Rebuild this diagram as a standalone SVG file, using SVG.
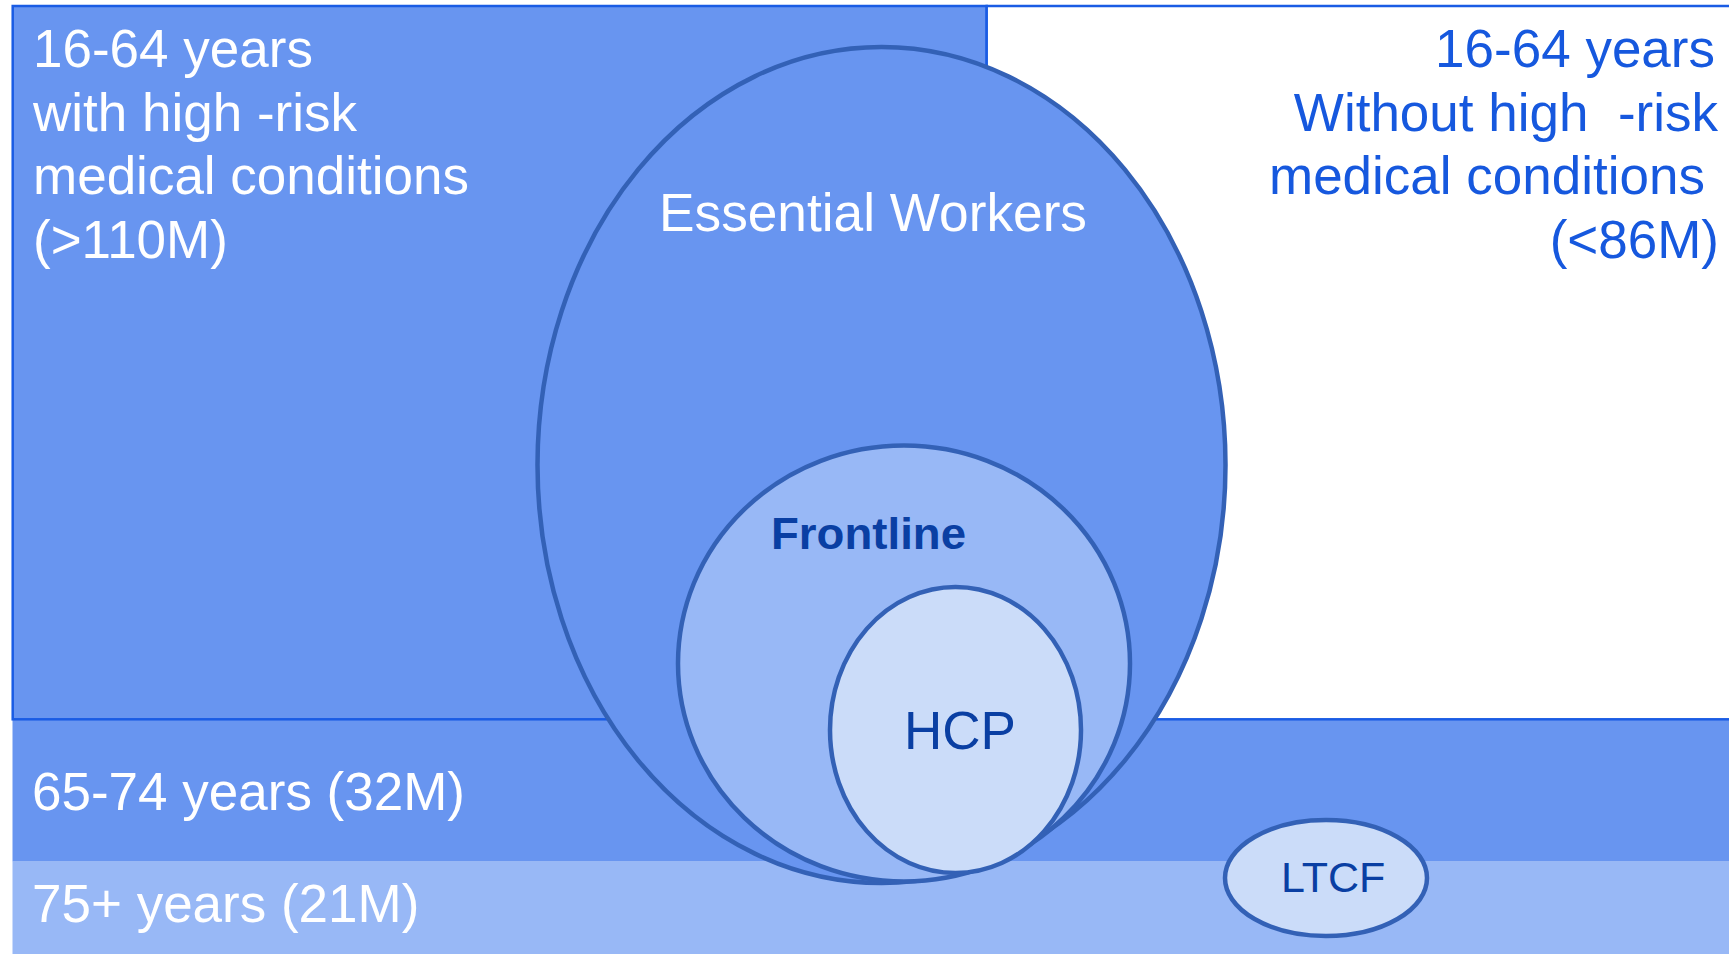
<svg xmlns="http://www.w3.org/2000/svg" width="1729" height="954" viewBox="0 0 1729 954">
<style>
.bg{fill:#ffffff}
.mid{fill:#6895F0}
.light{fill:#98B8F6}
.frame{stroke:#1A5CE4;stroke-width:2.5}
.ell{stroke:#3361B6;stroke-width:4.5}
.w{fill:#ffffff;font-family:"Liberation Sans",Arial,sans-serif;font-size:53px}
.b{fill:#1658DE;font-family:"Liberation Sans",Arial,sans-serif;font-size:53px;text-anchor:end}
.dk{fill:#0A3FA3;font-family:"Liberation Sans",Arial,sans-serif}
</style>
<rect class="bg" x="0" y="0" width="1729" height="954"/>
<g id="band-75plus">
<rect class="light" x="12.5" y="861.5" width="1716.5" height="92.5"/>
<text class="w" x="32" y="921.5" font-size="55">75+ years (21M)</text>
</g>
<g id="band-65-74">
<rect class="mid" x="12.5" y="719" width="1716.5" height="142.5"/>
<text class="w" x="32" y="810" font-size="55">65-74 years (32M)</text>
</g>
<g id="high-risk">
<rect class="mid frame" x="12.7" y="6" width="974" height="713.3"/>
</g>
<g id="no-high-risk">
<rect class="bg frame" x="986.7" y="6" width="750" height="713.3"/>
</g>
<g id="essential-workers">
<ellipse class="mid ell" cx="881.5" cy="465" rx="344" ry="418"/>
<text class="w" x="659" y="230.7" textLength="428" lengthAdjust="spacingAndGlyphs">Essential Workers</text>
</g>
<g id="frontline">
<ellipse class="light ell" cx="904" cy="663.5" rx="226" ry="218"/>
<text class="dk" x="771" y="549" font-size="45" font-weight="bold" textLength="195" lengthAdjust="spacingAndGlyphs">Frontline</text>
</g>
<g id="hcp">
<ellipse class="ell" fill="#CBDCF9" cx="955.5" cy="730" rx="125.5" ry="143"/>
<text class="dk" x="904" y="749.3" font-size="53">HCP</text>
</g>
<g id="ltcf">
<ellipse class="ell" fill="#CBDCF9" cx="1326" cy="878" rx="101" ry="58"/>
<text class="dk" x="1281" y="892.3" font-size="43">LTCF</text>
</g>
<g id="labels-high-risk">
<text class="w" x="33" y="66.7">16-64 years</text>
<text class="w" x="33" y="131">with high -risk</text>
<text class="w" x="33" y="194.3">medical conditions</text>
<text class="w" x="33" y="258">(&gt;110M)</text>
</g>
<g id="labels-no-high-risk">
<text class="b" x="1715" y="66.7">16-64 years</text>
<text class="b" x="1718" y="131" xml:space="preserve">Without high  -risk</text>
<text class="b" x="1705" y="194.3">medical conditions</text>
<text class="b" x="1719" y="258">(&lt;86M)</text>
</g>
<g id="connectors"/>
</svg>
